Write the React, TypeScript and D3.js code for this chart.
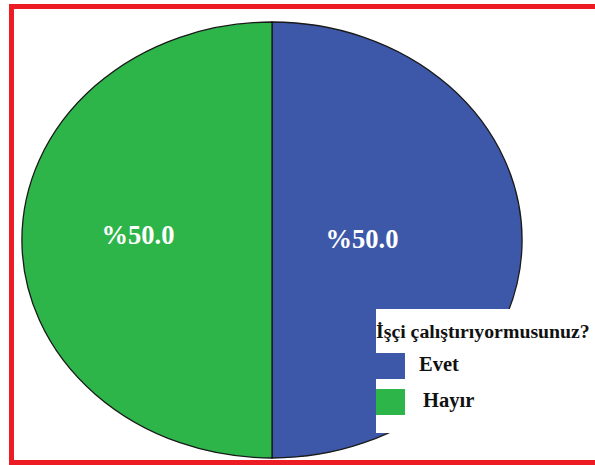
import React from "react";
import * as d3 from "d3";

const categories = ["Evet", "Hayır"];
const values = [50, 50];
const labels = ["%50.0", "%50.0"];
const legendTitle = "İşçi çalıştırıyormusunuz?";
const colors = ["#3E58A9", "#2EB54A"];

const W = 595;
const H = 465;
const cx = 272;
const cy = 240;
const rx = 250;
const ry = 218;
const labelRadius = [0.36, 0.536];
const labelDy = [-1, -5];

export default function App() {
  const pie = d3.pie<number>().sort(null).value((d) => d);
  const arcs = pie(values);
  const arc = d3.arc<d3.PieArcDatum<number>>().innerRadius(0).outerRadius(ry);
  const font = "'Liberation Serif', 'Times New Roman', serif";
  return (
    <svg width={W} height={H} style={{ position: "absolute", left: 0, top: 0, background: "#fff" }}>
      <g transform={`translate(${cx},${cy}) scale(${rx / ry},1)`}>
        {arcs.map((a, i) => (
          <path
            key={i}
            d={arc(a) || ""}
            fill={colors[i]}
            stroke="#1a1a1a"
            strokeWidth={1.3}
            vectorEffect="non-scaling-stroke"
          />
        ))}
      </g>
      {arcs.map((a, i) => {
        const c = d3
          .arc<d3.PieArcDatum<number>>()
          .innerRadius(labelRadius[i] * ry)
          .outerRadius(labelRadius[i] * ry)
          .centroid(a);
        return (
          <text
            key={i}
            x={cx + c[0] * (rx / ry)}
            y={cy + c[1] + labelDy[i]}
            textAnchor="middle"
            dominantBaseline="central"
            fill="#fff"
            fontFamily={font}
            fontWeight="bold"
            fontSize={26.5}
          >
            {labels[i]}
          </text>
        );
      })}
      <g>
        <rect x={376} y={309} width={230} height={124} fill="#fff" />
        <text x={376} y={338} fontFamily={font} fontWeight="bold" fontSize={19.8} fill="#111">
          {legendTitle}
        </text>
        {categories.map((c, i) => (
          <g key={c} transform={`translate(376,${353 + i * 36})`}>
            <rect x={0} y={0} width={29} height={26} fill={colors[i]} />
            <text x={43 + i * 4} y={18} fontFamily={font} fontWeight="bold" fontSize={20.5} fill="#111">
              {c}
            </text>
          </g>
        ))}
      </g>
      <rect x={11.5} y={6.5} width={600} height={456} fill="none" stroke="#ED1C24" strokeWidth={5} />
    </svg>
  );
}
